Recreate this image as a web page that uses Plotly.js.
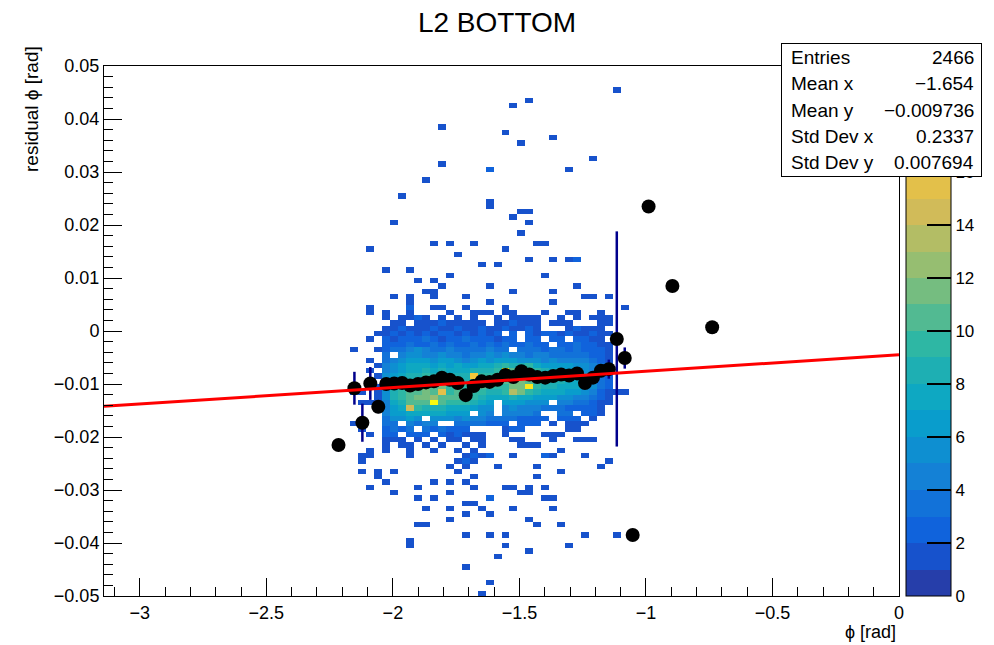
<!DOCTYPE html>
<html>
<head>
<meta charset="utf-8">
<script src="https://cdn.plot.ly/plotly-3.0.1.min.js"></script>
<style>
  html, body { margin: 0; padding: 0; background: #ffffff; }
  #chart { width: 994px; height: 645px; }
</style>
</head>
<body>
<div id="chart"></div>
<script>
// ---- histogram binning: phi in [-pi, 0], residual in [-0.05, 0.05], 100 x 100 bins
const nBinsX = 100, xMin = -Math.PI, xMax = 0;
const nBinsY = 100, yMin = -0.05, yMax = 0.05;

// dense core of the residual map: rows are residual bins 27..53 (bottom to top),
// columns are phi bins 34..64
const coreFirstBinX = 34;
const coreFirstBinY = 27;
const coreCounts = [
  [0,1,0,0,1,0,0,1,0,0,1,0,1,0,0,0,0,0,0,0,0,0,0,1,0,0,0,0,0,0,0],
  [0,1,0,1,1,0,1,0,1,0,0,1,0,1,0,0,0,0,1,1,1,0,0,0,0,0,0,0,0,0,0],
  [0,1,1,1,0,1,0,1,0,1,1,0,1,1,0,0,0,1,1,0,0,0,1,0,0,1,1,1,0,0,0],
  [0,2,2,0,2,2,2,0,2,1,2,1,1,1,0,0,1,0,0,0,0,1,1,1,0,0,0,0,0,0,0],
  [0,2,3,2,3,0,3,2,3,2,2,2,0,0,0,0,1,2,2,0,0,0,0,0,1,1,0,0,0,0,0],
  [0,3,3,0,4,3,4,4,0,0,3,3,3,3,2,2,2,0,2,2,2,0,1,0,1,1,1,0,0,0,0],
  [0,3,5,5,6,5,0,5,5,5,4,5,4,4,3,3,3,3,2,2,2,2,0,2,2,2,0,1,0,0,0],
  [0,4,6,6,7,7,7,7,7,6,6,6,0,5,4,0,4,4,4,4,3,0,0,3,3,0,2,2,1,0,0],
  [1,4,6,7,14,9,8,8,8,7,7,7,6,5,5,0,4,5,4,4,4,3,3,3,2,2,2,2,1,0,0],
  [1,4,7,8,10,10,10,19,10,9,9,9,8,7,6,0,6,6,6,5,5,5,0,4,4,3,3,2,1,1,0],
  [1,5,8,9,10,11,11,12,10,10,10,11,9,8,7,7,7,8,7,7,6,6,6,5,5,4,4,3,2,1,0],
  [1,5,8,9,10,10,11,10,15,9,10,10,9,9,8,8,9,13,11,9,8,7,7,7,6,6,5,4,2,1,1],
  [1,5,8,9,10,10,10,10,11,9,10,9,10,10,9,9,9,11,11,18,9,8,8,7,7,7,6,5,3,2,0],
  [0,5,7,8,9,10,10,9,10,9,9,8,10,10,9,10,10,10,11,10,9,9,8,8,7,7,6,5,3,2,0],
  [1,5,6,7,8,8,9,8,9,8,8,8,16,9,9,10,10,11,12,11,10,9,8,8,7,7,6,5,3,2,0],
  [0,4,5,6,7,7,8,7,8,7,7,7,8,8,8,9,19,10,11,10,9,8,7,7,6,6,5,4,3,2,0],
  [1,4,5,6,7,7,7,6,7,6,7,6,6,7,7,8,9,8,8,9,7,6,6,6,6,5,5,4,3,2,0],
  [0,3,4,5,6,6,6,5,6,6,5,4,5,6,5,6,6,6,5,5,5,4,5,4,4,4,4,3,2,1,0],
  [0,3,0,4,5,5,4,4,5,4,4,3,4,4,5,4,5,4,4,3,4,4,3,3,3,3,3,2,2,1,0],
  [1,2,3,3,4,5,4,3,3,4,3,3,3,3,4,3,3,0,3,3,3,2,3,3,2,3,2,2,2,1,0],
  [0,2,2,2,3,2,2,3,2,3,2,2,3,2,3,2,3,2,2,3,2,2,0,2,2,3,2,2,1,1,0],
  [0,2,1,2,2,2,3,2,1,2,2,3,2,2,2,1,2,2,0,2,2,0,2,2,0,2,2,1,1,0,0],
  [1,1,2,1,2,1,2,1,2,2,1,2,1,2,1,2,0,2,0,2,1,2,2,1,2,1,1,2,1,1,0],
  [0,1,1,2,1,1,1,2,1,1,2,1,1,2,1,1,2,1,1,2,1,0,0,0,1,2,1,1,1,0,0],
  [0,0,1,1,0,1,1,1,2,1,1,1,1,1,0,1,1,2,1,1,1,0,1,1,1,0,0,0,1,1,0],
  [0,1,0,1,1,2,1,0,1,0,1,0,1,0,0,1,0,1,1,1,1,0,0,1,0,1,0,1,1,1,0],
  [0,1,0,0,1,0,0,0,0,1,0,0,1,1,1,0,1,1,0,0,0,1,0,0,1,1,0,0,1,0,0]
];

// isolated bins away from the core (phi bin, residual bin, entries)
const sparseBinX = [
  64,53,51,42,50,52,56,42,48,58,61,40,37,36,48,48,52,53,51,53,52,33,41,43,46,50,54,55,44,35,38,47,49,53,56,58,59,39,41,43,55,42,48,59,36,38,38,38,40,41,41,45,51,56,56,48,60,61,63,41,42,45,50,65,68,
  29,31,31,31,32,32,32,32,32,32,33,33,33,33,33,33,33,33,33,33,
  65,65,66,71,76,
  47,48,45,49,50,53,58,38,38,50,45,48,60,64,39,40,43,53,54,57,40,43,45,47,48,51,56,39,41,43,45,46,48,52,53,53,55,56,36,39,41,43,45,46,50,51,55,35,34,34,36,46,54,54,57,43,44,49,62,63,56,60,51,38,44,45,45,46,46,47,48,55,45
];
const sparseBinY = [
  95,93,92,88,87,85,86,81,80,80,82,78,75,70,74,73,72,72,71,70,68,65,66,66,66,65,66,66,64,61,61,62,62,63,63,63,63,59,59,60,60,58,58,58,56,56,55,54,57,57,56,56,57,57,55,55,56,56,56,54,54,54,54,54,73,
  28,46,38,32,38,36,31,26,25,23,54,53,48,44,42,36,30,27,26,20,
  44,38,11,58,50,
  0,2,5,7,9,8,9,9,10,11,11,11,11,11,13,13,14,14,13,13,16,16,15,16,15,16,16,18,18,19,17,17,18,19,19,20,18,18,19,20,21,21,21,20,20,20,20,21,22,23,23,22,22,24,23,24,23,24,24,25,26,26,26,26,25,25,26,25,26,26,26,26,24
];
const sparseCount = [
  1,1,1,1,1,1,1,1,2,1,1,1,1,1,1,1,1,1,1,1,1,1,1,1,1,1,1,1,1,1,1,1,1,1,1,1,2,1,1,1,1,1,1,1,1,1,1,2,1,1,1,1,1,1,1,1,1,1,1,1,1,1,1,1,1,
  1,1,1,1,1,1,1,1,1,1,1,1,1,1,1,1,1,1,1,1,
  1,1,1,1,1,
  1,1,1,1,1,1,1,1,1,1,1,1,1,1,1,1,1,1,1,1,1,1,1,1,1,1,1,1,1,1,1,1,2,1,1,1,1,1,1,1,1,1,1,1,1,1,1,1,1,1,1,1,1,1,1,1,1,1,1,1,1,1,1,1,1,2,1,1,2,1,2,2,1
];

// profile of the residual vs phi (mean and error of the mean per phi bin)
const profX = [
  -2.2148,-2.1520,-2.1206,-2.0892,-2.0577,
  -2.0263,-1.9949,-1.9635,-1.9321,-1.9007,-1.8692,-1.8378,-1.8064,-1.7750,-1.7436,
  -1.7122,-1.6808,-1.6493,-1.6179,-1.5865,-1.5551,-1.5237,-1.4923,-1.4608,-1.4294,
  -1.3980,-1.3666,-1.3352,-1.3038,-1.2723,-1.2409,-1.2095,-1.1781,-1.1467,
  -1.1152,-1.0838,-1.0524,-0.9896,-0.8954,-0.7383
];
const profY = [
  -0.0215,-0.0108,-0.0173,-0.0099,-0.0143,
  -0.0100,-0.0099,-0.0098,-0.0103,-0.0100,-0.0097,-0.0095,-0.0088,-0.0092,-0.0098,
  -0.0121,-0.0104,-0.0095,-0.0096,-0.0092,-0.0083,-0.0087,-0.0076,-0.0082,-0.0087,
  -0.0088,-0.0085,-0.0082,-0.0084,-0.0080,-0.0098,-0.0088,-0.0075,-0.0072,
  -0.0015,-0.0051,-0.0385,0.0235,0.0085,0.0007
];
const profErr = [
  0,0.0031,0.0036,0.0031,0.0012,
  0.0008,0.0006,0.0005,0.0005,0.0005,0.0005,0.0005,0.0005,0.0005,0.0005,
  0.0005,0.0005,0.0005,0.0005,0.0005,0.0005,0.0005,0.0005,0.0005,0.0005,
  0.0005,0.0005,0.0006,0.0006,0.0006,0.0007,0.0008,0.0012,0.0018,
  0.0203,0.0020,0,0,0,0
];

// straight-line fit drawn across the full phi range
const fitX = [-3.1416, 0];
const fitY = [-0.0142, -0.0045];

// statistics box
const statLabels = ['Entries', 'Mean x', 'Mean y', 'Std Dev x', 'Std Dev y'];
const statValues = ['2466', '\u22121.654', '\u22120.009736', '0.2337', '0.007694'];

// palette axis labels (upper ones sit under the statistics box)
const zTickVals = [0, 2, 4, 6, 8, 10, 12, 14, 16];

// ---- "bird" palette, 20 discrete colour levels between 0 and 20 entries
const birdStops = [0.0, 0.125, 0.25, 0.375, 0.5, 0.625, 0.75, 0.875, 1.0];
const birdR = [0.2082, 0.0592, 0.0780, 0.0232, 0.1802, 0.5301, 0.8186, 0.9956, 0.9764];
const birdG = [0.1664, 0.3599, 0.5041, 0.6419, 0.7178, 0.7492, 0.7328, 0.7862, 0.9832];
const birdB = [0.5293, 0.8684, 0.8385, 0.7914, 0.6425, 0.4662, 0.3499, 0.1968, 0.0539];
const zMin = 0, zMax = 20, nLevels = 20;

function bird(f) {
  let i = 0;
  while (i < birdStops.length - 2 && f > birdStops[i + 1]) i++;
  const t = (f - birdStops[i]) / (birdStops[i + 1] - birdStops[i]);
  const c = (a) => Math.round(255 * (a[i] + t * (a[i + 1] - a[i])));
  return 'rgb(' + c(birdR) + ',' + c(birdG) + ',' + c(birdB) + ')';
}
const colorscale = [];
for (let i = 0; i < nLevels; i++) {
  const col = bird((i + 1) / nLevels);
  colorscale.push([i / nLevels, col]);
  colorscale.push([(i + 1) / nLevels, col]);
}

// ---- fill the 2D bin matrix (empty bins stay blank)
const dx = (xMax - xMin) / nBinsX;
const dy = (yMax - yMin) / nBinsY;
const z = [];
for (let j = 0; j < nBinsY; j++) z.push(new Array(nBinsX).fill(null));
coreCounts.forEach((row, r) => row.forEach((c, i) => {
  if (c > 0) z[coreFirstBinY + r][coreFirstBinX + i] = c;
}));
sparseBinX.forEach((bx, i) => {
  const by = sparseBinY[i];
  z[by][bx] = (z[by][bx] || 0) + sparseCount[i];
});

// ---- page geometry (pixels)
const W = 994, H = 645;
const M = { l: 104, r: 95, t: 66, b: 49, autoexpand: false };
const plotW = W - M.l - M.r, plotH = H - M.t - M.b;
const px = (x) => (x - M.l) / plotW;          // pixel -> paper x
const py = (y) => (H - M.b - y) / plotH;      // pixel -> paper y

const FONT = 'Liberation Sans, Arial, Helvetica, sans-serif';

const traces = [
  {
    type: 'heatmap',
    z: z,
    x0: xMin + dx / 2, dx: dx,
    y0: yMin + dy / 2, dy: dy,
    zmin: zMin, zmax: zMax,
    zsmooth: false,
    colorscale: colorscale,
    hoverinfo: 'skip',
    colorbar: {
      thickness: 45, thicknessmode: 'pixels',
      len: 1, lenmode: 'fraction',
      x: px(905.5), xanchor: 'left', xref: 'paper',
      y: 0.5, yanchor: 'middle',
      xpad: 0, ypad: 0,
      outlinewidth: 1, outlinecolor: '#000',
      ticks: 'inside', ticklen: 24, tickwidth: 1.5, tickcolor: '#000',
      tickmode: 'array', tickvals: zTickVals,
      tickfont: { family: FONT, size: 17, color: '#000' }
    }
  },
  {
    type: 'scatter', mode: 'markers',
    x: profX, y: profY,
    error_y: { type: 'data', array: profErr, visible: true, color: '#00008c', thickness: 2.5, width: 0 },
    marker: { color: '#000', size: 14, symbol: 'circle' },
    hoverinfo: 'skip', cliponaxis: true
  },
  {
    type: 'scatter', mode: 'lines',
    x: fitX, y: fitY,
    line: { color: '#ff0000', width: 3 },
    hoverinfo: 'skip'
  }
];

const annotations = [];
// statistics box with a thin drop shadow
const box = { x0: 781, y0: 43, w: 199, h: 132 };
annotations.push({
  xref: 'paper', yref: 'paper', x: px(box.x0 + 2), y: py(box.y0 + 2),
  xanchor: 'left', yanchor: 'top', text: ' ', showarrow: false,
  width: box.w, height: box.h, bgcolor: '#000', borderpad: 0, borderwidth: 0
});
annotations.push({
  xref: 'paper', yref: 'paper', x: px(box.x0), y: py(box.y0),
  xanchor: 'left', yanchor: 'top', text: ' ', showarrow: false,
  width: box.w, height: box.h, bgcolor: '#fff', bordercolor: '#000', borderwidth: 1, borderpad: 0
});
const lineH = box.h / statLabels.length;
statLabels.forEach((lab, i) => {
  const yc = box.y0 + 1 + lineH * (i + 0.5);
  annotations.push({
    xref: 'paper', yref: 'paper', x: px(789), y: py(yc),
    xanchor: 'left', yanchor: 'middle', text: lab, showarrow: false,
    font: { family: FONT, size: 19, color: '#000' }
  });
  annotations.push({
    xref: 'paper', yref: 'paper', x: px(976), y: py(yc),
    xanchor: 'right', yanchor: 'middle', text: statValues[i], showarrow: false,
    font: { family: FONT, size: 19, color: '#000' }
  });
});
// axis titles, aligned to the axis ends
annotations.push({
  xref: 'paper', yref: 'paper', x: px(898), y: py(632),
  xanchor: 'right', yanchor: 'middle', text: '\u03d5 [rad]', showarrow: false,
  font: { family: FONT, size: 18, color: '#000' }
});
annotations.push({
  xref: 'paper', yref: 'paper', x: px(31), y: py(44),
  xanchor: 'center', yanchor: 'top', text: 'residual \u03d5 [rad]', showarrow: false,
  textangle: -90,
  font: { family: FONT, size: 19, color: '#000' }
});

const axisCommon = {
  ticks: 'inside', tickcolor: '#000', tickwidth: 1,
  showline: true, linecolor: '#000', linewidth: 1, mirror: true,
  showgrid: false, zeroline: false,
  tickfont: { family: FONT, size: 18, color: '#000' }
};

const layout = {
  width: W, height: H,
  margin: M,
  paper_bgcolor: '#fff', plot_bgcolor: '#fff',
  showlegend: false,
  font: { family: FONT, color: '#000' },
  title: {
    text: 'L2 BOTTOM',
    font: { family: FONT, size: 28, color: '#000' },
    x: 0.5, xanchor: 'center', xref: 'container',
    y: 1 - 22 / H, yanchor: 'middle', yref: 'container'
  },
  xaxis: Object.assign({}, axisCommon, {
    range: [xMin, xMax], tick0: 0, dtick: 0.5, ticklen: 18,
    minor: { dtick: 0.1, ticks: 'inside', ticklen: 9, tickcolor: '#000', tickwidth: 1 }
  }),
  yaxis: Object.assign({}, axisCommon, {
    range: [yMin, yMax], tick0: 0, dtick: 0.01, ticklen: 18,
    minor: { dtick: 0.002, ticks: 'inside', ticklen: 9, tickcolor: '#000', tickwidth: 1 }
  }),
  annotations: annotations
};

Plotly.newPlot('chart', traces, layout, { staticPlot: true, displayModeBar: false });
</script>
</body>
</html>
